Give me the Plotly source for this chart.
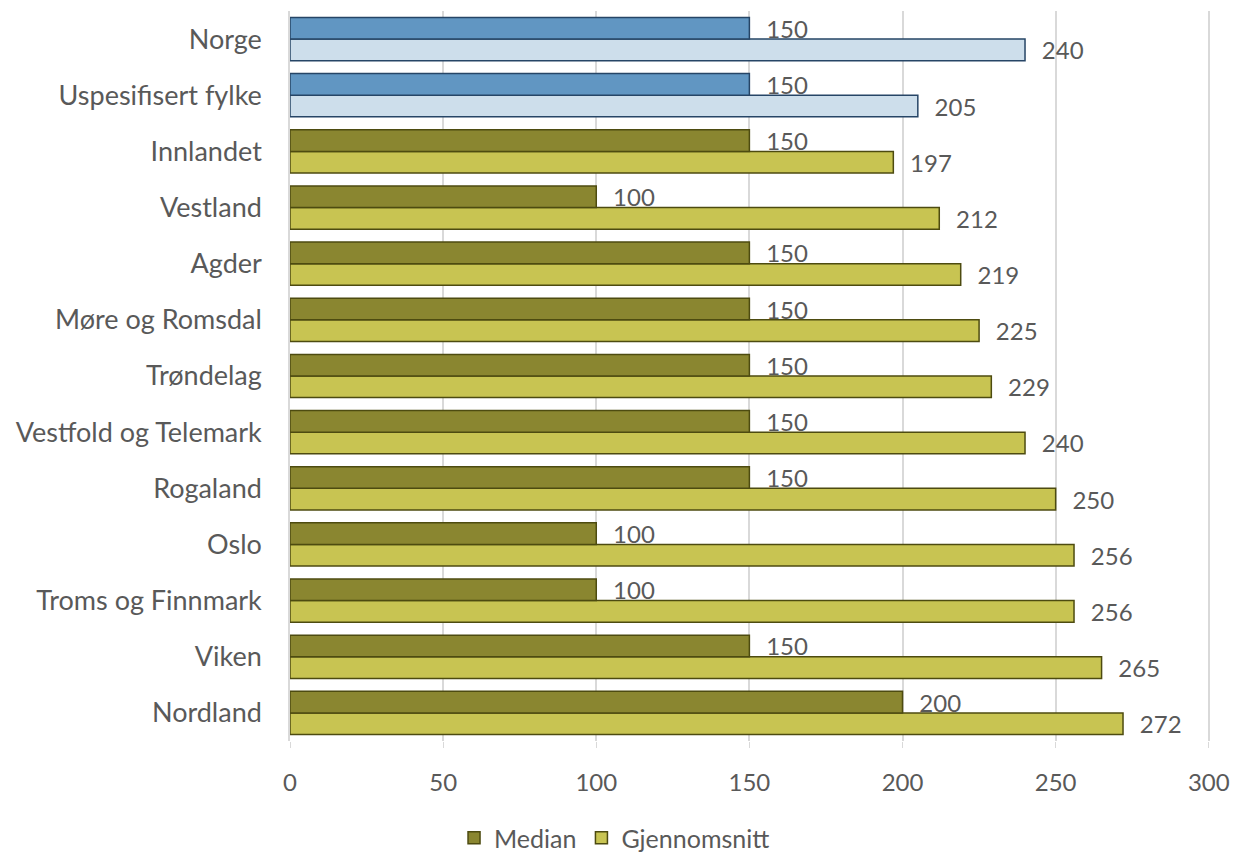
import plotly.graph_objects as go

# Data (bottom-to-top order)
categories = ["Nordland", "Viken", "Troms og Finnmark", "Oslo", "Rogaland",
              "Vestfold og Telemark", "Trøndelag", "Møre og Romsdal", "Agder",
              "Vestland", "Innlandet", "Uspesifisert fylke", "Norge"]
median_vals = [200, 150, 100, 100, 150, 150, 150, 150, 150, 100, 150, 150, 150]
mean_vals = [272, 265, 256, 256, 250, 240, 229, 225, 219, 212, 197, 205, 240]
x_ticks = [0, 50, 100, 150, 200, 250, 300]

blue_cats = {"Norge", "Uspesifisert fylke"}
med_colors = ["#6196c2" if c in blue_cats else "#8a8630" for c in categories]
mean_colors = ["#cddeeb" if c in blue_cats else "#c8c452" for c in categories]
line_colors = ["#264566" if c in blue_cats else "#4d4b10" for c in categories]

FONT = "Lato"
TXT = "#595959"
PAD = "  \u200a"

fig = go.Figure()
fig.add_trace(go.Bar(
    y=categories, x=mean_vals, orientation="h", name="Gjennomsnitt",
    marker=dict(color=mean_colors, line=dict(color=line_colors, width=1.5)),
    text=[PAD + str(v) for v in mean_vals], textposition="outside",
    textfont=dict(family=FONT, size=24, color=TXT), cliponaxis=False,
    legendrank=2,
))
fig.add_trace(go.Bar(
    y=categories, x=median_vals, orientation="h", name="Median",
    marker=dict(color=med_colors, line=dict(color=line_colors, width=1.5)),
    text=[PAD + str(v) for v in median_vals], textposition="outside",
    textfont=dict(family=FONT, size=24, color=TXT), cliponaxis=False,
    legendrank=1,
))

fig.update_layout(
    width=1234, height=852,
    barmode="group", bargap=0.23, bargroupgap=0,
    plot_bgcolor="white", paper_bgcolor="white",
    margin=dict(l=290, r=24, t=11, b=111),
    font=dict(family=FONT, size=24, color=TXT),
    uniformtext=dict(minsize=24, mode="show"),
    xaxis=dict(range=[0, 300.4], tickvals=x_ticks, showgrid=True, gridcolor="#d9d9d9",
               gridwidth=1.5, zeroline=False, showline=False, automargin=False,
               ticks="outside", ticklen=6, tickcolor="#d9d9d9", ticklabeloverflow="allow",
               ticklabelstandoff=14, tickfont=dict(size=24, color=TXT)),
    yaxis=dict(showline=True, linecolor="#d9d9d9", linewidth=1.5, automargin=False,
               ticklabelstandoff=21, tickfont=dict(size=27, color=TXT)),
    legend=dict(orientation="h", xref="container", yref="container",
                x=0.498, y=0.0164, xanchor="center", yanchor="middle",
                font=dict(size=25, color=TXT), itemwidth=30),
    showlegend=True,
)

fig.write_html("out.html", config={"displayModeBar": False},
               post_script="document.body.style.margin='0';document.body.style.overflow='hidden';")
